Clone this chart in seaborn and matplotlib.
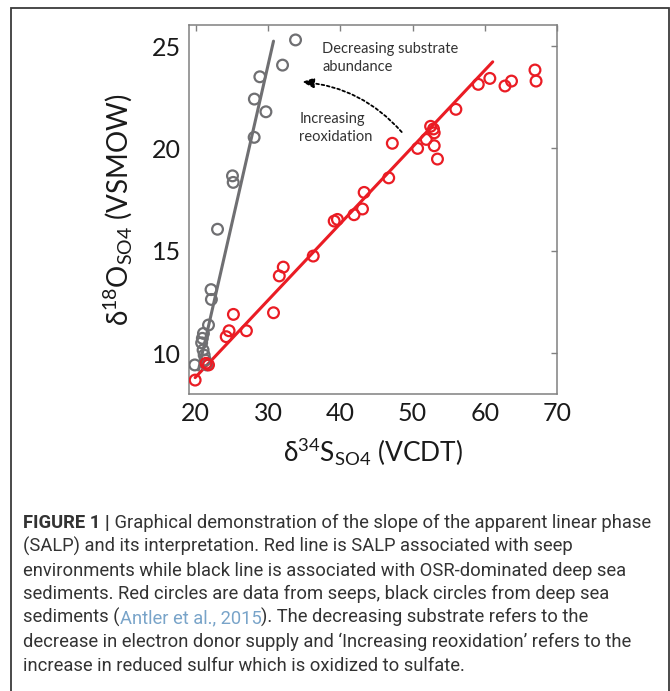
import matplotlib.pyplot as plt
import matplotlib.patches as mpatches
import pandas as pd
import seaborn as sns

# seep data (red) and deep sea data (gray)
seep_d34s = [19.9, 21.4, 21.75, 24.2, 24.6, 25.2, 27.0, 30.75, 31.55, 32.1,
             36.25, 39.15, 39.6, 41.9, 43.07, 43.3, 46.7, 47.2, 50.7, 51.9,
             52.5, 52.9, 53.0, 53.0, 53.45, 56.0, 59.1, 60.7, 62.8, 63.7,
             66.95, 67.1]
seep_d18o = [8.68, 9.5, 9.42, 10.8, 11.09, 11.89, 11.09, 11.97, 13.77, 14.2,
             14.74, 16.45, 16.53, 16.76, 17.04, 17.85, 18.56, 20.25, 20.0, 20.44,
             21.08, 20.95, 20.76, 20.13, 19.48, 21.91, 23.13, 23.42, 23.05, 23.29,
             23.83, 23.29]

deep_d34s = [19.85, 21.5, 21.3, 21.15, 21.0, 20.8, 20.9, 21.05, 21.75, 22.15,
             22.1, 23.0, 25.07, 25.17, 28.07, 29.7, 28.1, 28.86, 32.0, 33.8]
deep_d18o = [9.42, 9.42, 9.66, 9.9, 10.15, 10.5, 10.72, 10.96, 11.37, 12.62,
             13.1, 16.05, 18.66, 18.34, 20.54, 21.79, 22.41, 23.5, 24.07, 25.3]

# SALP lines (end points)
seep_line_x = [19.9, 61.1]
seep_line_y = [8.8, 24.23]
deep_line_x = [20.36, 30.75]
deep_line_y = [9.17, 25.24]

x_ticks = [20, 30, 40, 50, 60, 70]
y_ticks = [10, 15, 20, 25]

caption_lines = [
    "(SALP) and its interpretation. Red line is SALP associated with seep",
    "environments while black line is associated with OSR-dominated deep sea",
    "sediments. Red circles are data from seeps, black circles from deep sea",
]

RED = '#ea1c24'
GRAY = '#6f6f72'

sns.set_style('white')
plt.rcParams['font.family'] = ['Lato', 'DejaVu Sans']
plt.rcParams['mathtext.fontset'] = 'custom'
plt.rcParams['mathtext.rm'] = 'Lato'
plt.rcParams['mathtext.default'] = 'rm'

W, H = 670, 691
fig = plt.figure(figsize=(W / 100, H / 100), dpi=100)
ax = fig.add_axes([189 / W, 1 - 394 / H, (557 - 189) / W, (394 - 25) / H])

df_seep = pd.DataFrame({'d34s': seep_d34s, 'd18o': seep_d18o})
df_deep = pd.DataFrame({'d34s': deep_d34s, 'd18o': deep_d18o})

sns.lineplot(x=deep_line_x, y=deep_line_y, color=GRAY, lw=2.2, ax=ax)
sns.lineplot(x=seep_line_x, y=seep_line_y, color=RED, lw=2.2, ax=ax)
sns.scatterplot(data=df_deep, x='d34s', y='d18o', color=GRAY, facecolor='none',
                edgecolor=GRAY, s=60, linewidth=1.6, ax=ax, zorder=3)
sns.scatterplot(data=df_seep, x='d34s', y='d18o', color=RED, facecolor='none',
                edgecolor=RED, s=60, linewidth=1.6, ax=ax, zorder=3)

ax.set_xlim(19.05, 70)
ax.set_ylim(8, 26.03)
ax.set_xticks(x_ticks)
ax.set_yticks(y_ticks)
ax.tick_params(direction='in', length=4, width=1, color='#808080',
               top=True, right=True, labelsize=18, labelcolor='#1a1a1a', pad=6)
for s in ax.spines.values():
    s.set_visible(True)
    s.set_color('#808080')
    s.set_linewidth(1.1)

ax.set_xlabel(r'δ$^{34}$S$_{SO4}$ (VCDT)', fontsize=19, color='#1a1a1a', labelpad=8)
ax.set_ylabel(r'δ$^{18}$O$_{SO4}$ (VSMOW)', fontsize=20, color='#1a1a1a', labelpad=12)

# annotation
ax.text(37.5, 24.4, 'Decreasing substrate\nabundance', fontsize=10.5,
        color='#333333', va='center', linespacing=1.35)
ax.text(34.3, 21.0, 'Increasing\nreoxidation', fontsize=10.5,
        color='#333333', va='center', linespacing=1.35)
ax.annotate('', xy=(34.7, 23.25), xytext=(48.5, 20.8),
            arrowprops=dict(arrowstyle='-|>,head_length=0.7,head_width=0.3',
                            connectionstyle='arc3,rad=0.2', color='black',
                            lw=1.3, ls=(0, (1.5, 1.5)), shrinkA=0, shrinkB=0))

# caption
cap_kw = dict(fontsize=13.2, color='#333333', family=['Roboto', 'DejaVu Sans'])
x0 = 23 / W
base = 528
step = 23.8
t = fig.text(x0, 1 - base / H, 'FIGURE 1 |', fontweight='bold', va='baseline', **cap_kw)
ax.annotate(' Graphical demonstration of the slope of the apparent linear phase',
            xy=(1, 0), xycoords=t, va='bottom', annotation_clip=False, **cap_kw)
for i, line in enumerate(caption_lines):
    fig.text(x0, 1 - (base + step * (i + 1)) / H, line, va='baseline', **cap_kw)
t = fig.text(x0, 1 - (base + step * 4) / H, 'sediments (', va='baseline', **cap_kw)
t = ax.annotate('Antler et al., 2015', xy=(1, 0), xycoords=t, va='bottom',
                annotation_clip=False, **{**cap_kw, 'color': '#79a4c9'})
ax.annotate('). The decreasing substrate refers to the', xy=(1, 0), xycoords=t,
            va='bottom', annotation_clip=False, **cap_kw)
fig.text(x0, 1 - (base + step * 5) / H,
         'decrease in electron donor supply and \u2018Increasing reoxidation\u2019 refers to the',
         va='baseline', **cap_kw)
fig.text(x0, 1 - (base + step * 6) / H,
         'increase in reduced sulfur which is oxidized to sulfate.', va='baseline', **cap_kw)

# frame around the figure
fig.add_artist(mpatches.Rectangle((11 / W, -0.02), (669 - 11) / W, 1 - 8 / H + 0.02,
                                  transform=fig.transFigure, fill=False,
                                  ec='#3a3a3a', lw=1.3))

fig.savefig('out.png', dpi=100)
